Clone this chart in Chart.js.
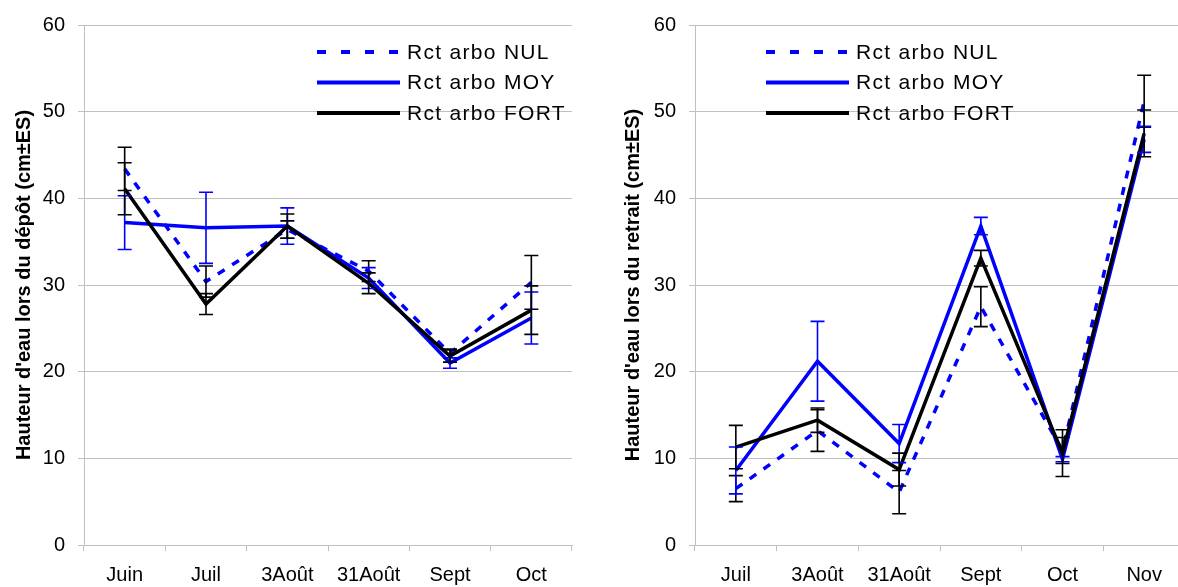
<!DOCTYPE html>
<html>
<head>
<meta charset="utf-8">
<script src="https://cdn.jsdelivr.net/npm/chart.js@4.4.0/dist/chart.umd.min.js"></script>
<style>
  html, body { margin: 0; padding: 0; background: #fff; overflow: hidden; width: 1178px; height: 587px; }
  .box { position: absolute; top: 0; height: 587px; }
  #left { left: 0; width: 590px; }
  #right { left: 600px; width: 600px; }
</style>
</head>
<body>
<div class="box" id="left"><canvas id="depot"></canvas></div>
<div class="box" id="right"><canvas id="retrait"></canvas></div>
<script>
// data
const depotLabels = ['Juin', 'Juil', '3Août', '31Août', 'Sept', 'Oct'];
const depotNul = [43.4, 30.4, 36.4, 31.6, 22.1, 30.3];
const depotNulErr = [2.5, 1.8, 1.0, 1.2, 0.5, 3.1];
const depotMoy = [37.2, 36.6, 36.8, 30.8, 21.0, 26.2];
const depotMoyErr = [3.1, 4.1, 2.1, 1.2, 0.6, 3.0];
const depotFort = [41.1, 27.8, 36.8, 30.2, 21.8, 27.1];
const depotFortErr = [3.0, 1.2, 1.4, 1.2, 0.7, 2.8];

const retraitLabels = ['Juil', '3Août', '31Août', 'Sept', 'Oct', 'Nov'];
const retraitNul = [6.5, 13.2, 6.1, 27.5, 10.9, 51.2];
const retraitNulErr = [1.5, 2.4, 2.5, 2.3, 1.5, 3.0];
const retraitMoy = [8.6, 21.2, 11.7, 36.8, 9.9, 46.8];
const retraitMoyErr = [2.7, 4.6, 2.2, 1.0, 0.3, 1.5];
const retraitFort = [11.3, 14.4, 8.7, 33.1, 10.6, 47.5];
const retraitFortErr = [2.5, 1.4, 1.9, 0.9, 2.7, 2.7];

const seriesNames = ['Rct arbo NUL', 'Rct arbo MOY', 'Rct arbo FORT'];
const yTicks = [0, 10, 20, 30, 40, 50, 60];

const FONT = "'Liberation Sans', Arial, sans-serif";
const GRID = '#c0c0c0';

// error bars, drawn through the y scale
const errorBars = {
  id: 'errorBars',
  afterDatasetsDraw(chart) {
    const ctx = chart.ctx;
    const y = chart.scales.y;
    ctx.save();
    chart.data.datasets.forEach((ds, i) => {
      const meta = chart.getDatasetMeta(i);
      ctx.strokeStyle = ds.errColor;
      ctx.lineWidth = 1.6;
      ctx.setLineDash([]);
      meta.data.forEach((pt, j) => {
        const v = ds.data[j], e = ds.errors[j];
        const top = y.getPixelForValue(v + e);
        const bot = y.getPixelForValue(v - e);
        ctx.beginPath();
        ctx.moveTo(pt.x, top); ctx.lineTo(pt.x, bot);
        ctx.moveTo(pt.x - 7, top); ctx.lineTo(pt.x + 7, top);
        ctx.moveTo(pt.x - 7, bot); ctx.lineTo(pt.x + 7, bot);
        ctx.stroke();
      });
    });
    ctx.restore();
  }
};

// legend inside the plot, upper right
const boxLegend = {
  id: 'boxLegend',
  afterDraw(chart, args, opts) {
    const ctx = chart.ctx;
    ctx.save();
    ctx.font = '21px ' + FONT;
    ctx.letterSpacing = '1.3px';
    ctx.textBaseline = 'middle';
    chart.data.datasets.forEach((ds, i) => {
      const yy = opts.y + i * 30.5;
      ctx.beginPath();
      ctx.setLineDash(ds.borderDash ? [9, 15] : []);
      ctx.strokeStyle = ds.borderColor;
      ctx.lineWidth = 4;
      ctx.moveTo(opts.x, yy);
      ctx.lineTo(opts.x + 83, yy);
      ctx.stroke();
      ctx.setLineDash([]);
      ctx.fillStyle = '#000';
      ctx.fillText(ds.label, opts.x + 90, yy + 1);
    });
    ctx.restore();
  }
};

function makeSets(nul, nulErr, moy, moyErr, fort, fortErr) {
  return [
    { label: seriesNames[0], data: nul, errors: nulErr, errColor: '#000',
      borderColor: '#0000ff', borderDash: [8, 9], borderWidth: 3.5, order: 2 },
    { label: seriesNames[1], data: moy, errors: moyErr, errColor: '#0000ff',
      borderColor: '#0000ff', borderWidth: 3.5, order: 1 },
    { label: seriesNames[2], data: fort, errors: fortErr, errColor: '#000',
      borderColor: '#000000', borderWidth: 3.5, order: 0 }
  ];
}

function makeChart(id, labels, sets, title, yWidth, titlePad, padRight, legendX) {
  return new Chart(document.getElementById(id), {
    type: 'line',
    data: { labels: labels, datasets: sets },
    options: {
      responsive: true,
      maintainAspectRatio: false,
      animation: false,
      layout: { padding: { top: 23, right: padRight, bottom: 0, left: 0 } },
      elements: {
        point: { radius: 0, hoverRadius: 0 },
        line: { tension: 0, fill: false, borderCapStyle: 'butt' }
      },
      scales: {
        x: {
          offset: true,
          grid: { offset: true, drawOnChartArea: false, color: GRID, tickLength: 6 },
          border: { color: GRID },
          ticks: { color: '#000', padding: 12, maxRotation: 0, font: { family: FONT, size: 20 } },
          afterFit(s) { s.height = 42; }
        },
        y: {
          min: 0, max: 60,
          afterBuildTicks(s) { s.ticks = yTicks.map(v => ({ value: v })); },
          grid: { color: GRID, tickLength: 6 },
          border: { color: GRID },
          ticks: { color: '#000', padding: 13, font: { family: FONT, size: 20 } },
          title: {
            display: true, text: title, color: '#000',
            font: { family: FONT, size: 20, weight: 'bold' },
            padding: { top: titlePad, bottom: 0 }
          },
          afterFit(s) { s.width = yWidth; }
        }
      },
      plugins: {
        legend: { display: false },
        tooltip: { enabled: false },
        boxLegend: { x: legendX, y: 52 }
      }
    },
    plugins: [errorBars, boxLegend]
  });
}

makeChart('depot', depotLabels,
  makeSets(depotNul, depotNulErr, depotMoy, depotMoyErr, depotFort, depotFortErr),
  "Hauteur d'eau lors du dépôt (cm±ES)", 84, 12, 18, 317);

makeChart('retrait', retraitLabels,
  makeSets(retraitNul, retraitNulErr, retraitMoy, retraitMoyErr, retraitFort, retraitFortErr),
  "Hauteur d'eau lors du retrait (cm±ES)", 95, 21, 15, 166);
</script>
</body>
</html>
